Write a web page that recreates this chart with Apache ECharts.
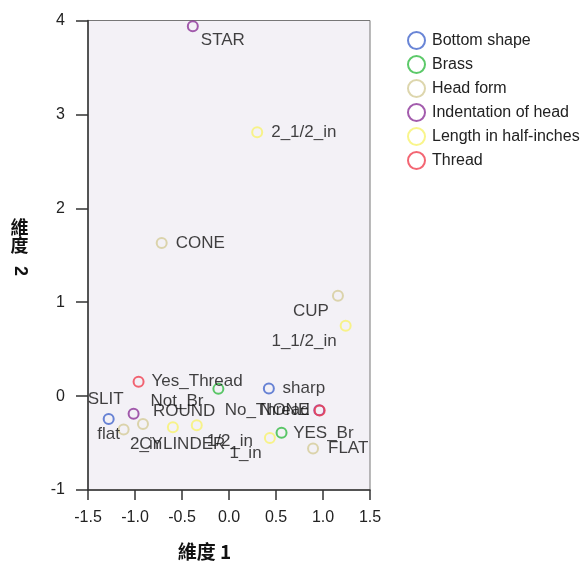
<!DOCTYPE html>
<html><head><meta charset="utf-8">
<script src="https://cdn.jsdelivr.net/npm/echarts@6/dist/echarts.min.js"></script>
<style>html,body{margin:0;padding:0;background:#fff}#c{width:582px;height:563px}</style>
</head><body><div id="c"></div>
<script>
// ---- data ----
const groupNames = ['Bottom shape','Brass','Head form','Indentation of head','Length in half-inches','Thread'];

const bottomNames = ['sharp','flat'];
const bottomX = [0.424, -1.280];
const bottomY = [0.080, -0.243];

const brassNames = ['Not_Br','YES_Br'];
const brassX = [-0.113, 0.559];
const brassY = [0.077, -0.391];

const headNames = ['CONE','CUP','ROUND','CYLINDER','FLAT'];
const headX = [-0.716, 1.159, -0.915, -1.121, 0.894];
const headY = [1.630, 1.069, -0.296, -0.356, -0.559];

const indentNames = ['STAR','SLIT','NONE'];
const indentX = [-0.385, -1.015, 0.960];
const indentY = [3.940, -0.189, -0.150];

const lengthNames = ['2_1/2_in','1_1/2_in','2_in','1/2_in','1_in'];
const lengthX = [0.300, 1.241, -0.597, -0.343, 0.435];
const lengthY = [2.810, 0.750, -0.332, -0.311, -0.445];

const threadNames = ['Yes_Thread','No_Thread'];
const threadX = [-0.962, 0.965];
const threadY = [0.154, -0.154];

const xTickLabels = ['-1.5','-1.0','-0.5','0.0','0.5','1.0','1.5'];
const yTickLabels = ['-1','0','1','2','3','4'];

// ---- styles ----
const FONT = "'Liberation Sans', Arial, 'Noto Sans CJK TC', sans-serif";
const CJK = "'Noto Sans CJK TC', 'Liberation Sans', sans-serif";
const colors = ['#4466cc','#33bb44','#d4cc98','#8c3399','#f7f36e','#f04050'];

// label placement: [align, dx, dy] relative to marker centre
const labelPlace = {
  'STAR':['left',8,14.5], '2_1/2_in':['left',14,0], 'CONE':['left',14,0],
  'CUP':['right',-9,15.7], '1_1/2_in':['right',-9,15.7], 'Yes_Thread':['left',13,0],
  'Not_Br':['right',-15,12], 'sharp':['left',13.7,0], 'No_Thread':['right',-10,0],
  'NONE':['right',-10,0], 'flat':['center',0,15.7], 'SLIT':['right',-10,-15],
  'CYLINDER':['left',15.7,15], 'ROUND':['left',10,-12.6], '2_in':['right',-10.7,17.3],
  '1/2_in':['left',10,16], '1_in':['right',-8.3,15.7], 'YES_Br':['left',11.6,0],
  'FLAT':['left',15,0]
};

function mk(idx, names, xs, ys) {
  const c = colors[idx];
  return {
    type:'scatter', name: groupNames[idx], symbol:'circle', symbolSize:10,
    itemStyle:{color:'rgba(0,0,0,0)', borderColor:c, borderWidth:2},
    label:{show:true, position:'inside', formatter:'{b}', color:'#111', fontSize:17,
           fontFamily:FONT, verticalAlign:'middle'},
    emphasis:{disabled:true},
    data: names.map((n,i)=>{
      const L = labelPlace[n];
      return {name:n, value:[xs[i], ys[i]], label:{align:L[0], offset:[L[1], L[2]]}};
    })
  };
}

const chart = echarts.init(document.getElementById('c'), null, {renderer:'canvas'});
chart.setOption({
  animation:false,
  backgroundColor:'#ffffff',
  grid:{left:88, right:212, top:20.5, bottom:73, show:true, backgroundColor:'#f3f1f6',
        borderColor:'#777', borderWidth:1},
  xAxis:{type:'value', min:-1.5, max:1.5, interval:0.5,
    axisLine:{show:true, onZero:false, lineStyle:{color:'#333', width:1.5}},
    axisTick:{show:true, length:10, lineStyle:{color:'#333', width:1.5}},
    splitLine:{show:false},
    axisLabel:{margin:20, fontSize:16, color:'#222', fontFamily:FONT,
      formatter:(v)=>{const i = Math.round((v+1.5)/0.5); return xTickLabels[i];}}},
  yAxis:{type:'value', min:-1, max:4, interval:1,
    axisLine:{show:true, onZero:false, lineStyle:{color:'#333', width:1.5}},
    axisTick:{show:true, length:12, lineStyle:{color:'#333', width:1.5}},
    splitLine:{show:false},
    axisLabel:{margin:23, fontSize:16, color:'#222', fontFamily:FONT,
      formatter:(v)=>yTickLabels[Math.round(v+1)]}},
  legend:{orient:'vertical', left:407, top:31, padding:0, itemWidth:17, itemHeight:17, itemGap:5,
    icon:'circle', selectedMode:false,
    textStyle:{fontSize:16, color:'#222', fontFamily:FONT, padding:[0,0,0,2]},
    data: groupNames.map((g,i)=>({name:g, itemStyle:{color:'rgba(0,0,0,0)', borderColor:colors[i], borderWidth:2}}))},
  graphic:[
    {type:'text', x:204.5, y:552, style:{text:'維度 1', font:"bold 19px "+CJK, fill:'#111', align:'center', verticalAlign:'middle'}},
    {type:'text', x:19.5, y:218, style:{text:'維\n度', font:"bold 18px "+CJK, lineHeight:18, fill:'#111', align:'center', verticalAlign:'top'}},
    {type:'text', x:19.5, y:271, rotation:-Math.PI/2, style:{text:'2', font:"bold 18px "+FONT, fill:'#111', align:'center', verticalAlign:'middle'}}
  ],
  series:[
    mk(0, bottomNames, bottomX, bottomY),
    mk(1, brassNames, brassX, brassY),
    mk(2, headNames, headX, headY),
    mk(3, indentNames, indentX, indentY),
    mk(4, lengthNames, lengthX, lengthY),
    mk(5, threadNames, threadX, threadY)
  ]
});
</script></body></html>
